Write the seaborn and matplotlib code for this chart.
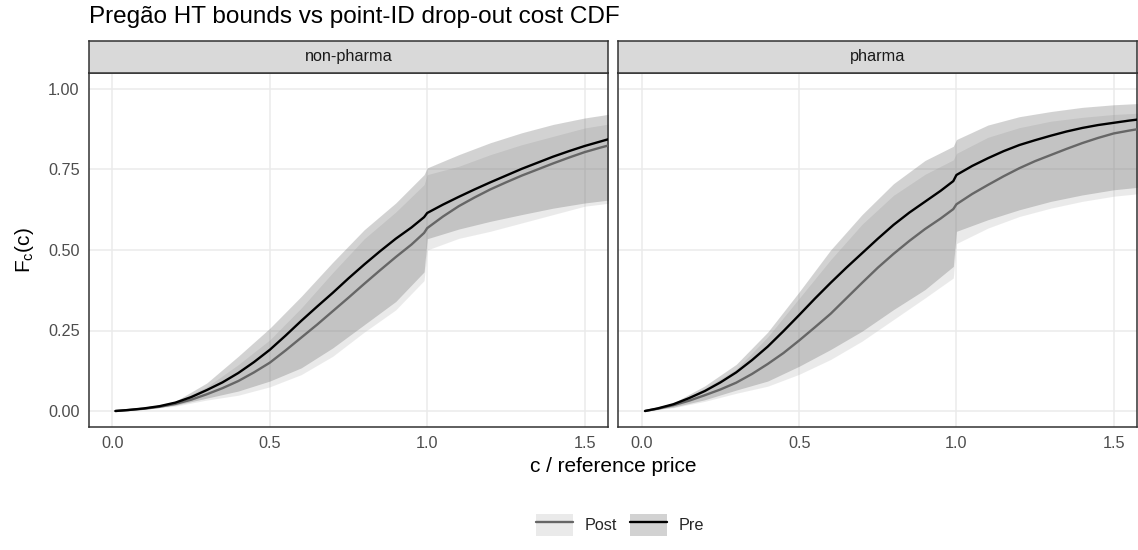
import numpy as np
import pandas as pd
import matplotlib
matplotlib.use("Agg")
import matplotlib.pyplot as plt
import seaborn as sns
from matplotlib.patches import Patch
from matplotlib.lines import Line2D

sns.set_theme(style="white")
plt.rcParams["font.family"] = ["Liberation Sans", "DejaVu Sans"]

# ---------------- data ----------------
panels = ["non-pharma", "pharma"]
periods = ["Post", "Pre"]

# point-identified CDFs (lines)
cost_line = [0.01, 0.05, 0.1, 0.15, 0.2, 0.25, 0.3, 0.35, 0.4, 0.45, 0.5,
             0.55, 0.6, 0.65, 0.7, 0.75, 0.8, 0.85, 0.9, 0.95, 0.99, 1.0,
             1.05, 1.1, 1.15, 1.2, 1.25, 1.3, 1.35, 1.4, 1.45, 1.5, 1.55, 1.6]
np_pre_pt = [0.0, 0.003, 0.008, 0.015, 0.026, 0.043, 0.065, 0.089, 0.118,
             0.152, 0.19, 0.234, 0.28, 0.324, 0.367, 0.412, 0.455, 0.496,
             0.535, 0.57, 0.602, 0.615, 0.641, 0.665, 0.688, 0.71, 0.731,
             0.752, 0.771, 0.79, 0.807, 0.823, 0.837, 0.851]
np_post_pt = [0.0, 0.003, 0.007, 0.013, 0.022, 0.035, 0.052, 0.071, 0.093,
              0.12, 0.15, 0.188, 0.228, 0.268, 0.31, 0.352, 0.395, 0.437,
              0.478, 0.517, 0.553, 0.568, 0.604, 0.636, 0.663, 0.688, 0.71,
              0.731, 0.75, 0.769, 0.787, 0.804, 0.818, 0.831]
ph_pre_pt = [0.0, 0.008, 0.021, 0.04, 0.062, 0.089, 0.12, 0.158, 0.2, 0.248,
             0.298, 0.349, 0.398, 0.445, 0.49, 0.535, 0.578, 0.616, 0.65,
             0.684, 0.714, 0.733, 0.761, 0.785, 0.807, 0.826, 0.841, 0.855,
             0.868, 0.879, 0.888, 0.895, 0.902, 0.908]
ph_post_pt = [0.0, 0.007, 0.018, 0.032, 0.049, 0.067, 0.088, 0.115, 0.146,
              0.18, 0.219, 0.26, 0.302, 0.35, 0.398, 0.445, 0.488, 0.528,
              0.565, 0.598, 0.627, 0.642, 0.674, 0.702, 0.729, 0.754, 0.776,
              0.795, 0.814, 0.832, 0.848, 0.862, 0.871, 0.879]

# HT bounds (ribbons)
cost_band = [0.01, 0.1, 0.2, 0.3, 0.4, 0.5, 0.6, 0.7, 0.8, 0.9, 0.99, 1.0,
             1.1, 1.2, 1.3, 1.4, 1.5, 1.6]
np_pre_lo = [0.0, 0.006, 0.018, 0.04, 0.062, 0.093, 0.134, 0.196, 0.268, 0.34,
             0.432, 0.535, 0.565, 0.589, 0.61, 0.63, 0.646, 0.658]
np_pre_hi = [0.0, 0.009, 0.03, 0.087, 0.17, 0.257, 0.356, 0.462, 0.563, 0.646,
             0.734, 0.755, 0.796, 0.833, 0.864, 0.89, 0.91, 0.925]
np_post_lo = [0.0, 0.005, 0.015, 0.034, 0.049, 0.075, 0.113, 0.17, 0.245, 0.314,
              0.405, 0.5, 0.536, 0.558, 0.584, 0.61, 0.636, 0.648]
np_post_hi = [0.0, 0.008, 0.027, 0.075, 0.144, 0.221, 0.32, 0.43, 0.535, 0.618,
              0.703, 0.734, 0.76, 0.796, 0.827, 0.853, 0.879, 0.895]
ph_pre_lo = [0.0, 0.012, 0.035, 0.065, 0.093, 0.139, 0.191, 0.248, 0.315, 0.377,
             0.449, 0.558, 0.594, 0.625, 0.651, 0.671, 0.687, 0.697]
ph_pre_hi = [0.0, 0.025, 0.078, 0.145, 0.245, 0.37, 0.5, 0.61, 0.706, 0.778,
             0.822, 0.843, 0.888, 0.914, 0.93, 0.943, 0.951, 0.956]
ph_post_lo = [0.0, 0.01, 0.03, 0.055, 0.077, 0.114, 0.16, 0.217, 0.284, 0.351,
              0.413, 0.52, 0.568, 0.604, 0.63, 0.651, 0.667, 0.677]
ph_post_hi = [0.0, 0.022, 0.07, 0.13, 0.23, 0.35, 0.47, 0.58, 0.67, 0.735,
              0.78, 0.80, 0.85, 0.88, 0.90, 0.912, 0.921, 0.926]

x_ticks = [0.0, 0.5, 1.0, 1.5]
x_tick_labels = ["0.0", "0.5", "1.0", "1.5"]
y_ticks = [0.0, 0.25, 0.5, 0.75, 1.0]
y_tick_labels = ["0.00", "0.25", "0.50", "0.75", "1.00"]

# ---------------- tidy frames ----------------
line_series = {
    ("non-pharma", "Pre"): np_pre_pt, ("non-pharma", "Post"): np_post_pt,
    ("pharma", "Pre"): ph_pre_pt, ("pharma", "Post"): ph_post_pt,
}
band_series = {
    ("non-pharma", "Pre"): (np_pre_lo, np_pre_hi),
    ("non-pharma", "Post"): (np_post_lo, np_post_hi),
    ("pharma", "Pre"): (ph_pre_lo, ph_pre_hi),
    ("pharma", "Post"): (ph_post_lo, ph_post_hi),
}
lines_df = pd.DataFrame([dict(panel=p, period=q, c=c, F=f)
                         for (p, q), v in line_series.items()
                         for c, f in zip(cost_line, v)])
bands_df = pd.DataFrame([dict(panel=p, period=q, c=c, lo=l, hi=h)
                         for (p, q), (lo, hi) in band_series.items()
                         for c, l, h in zip(cost_band, lo, hi)])

line_col = {"Post": "#666666", "Pre": "#000000"}
fill_col = {"Post": "#AFAFAF", "Pre": "#4F4F4F"}
fill_alpha = 0.25
lw = 1.7

# ---------------- layout (pixel based) ----------------
W, H = 1138, 550
fig = plt.figure(figsize=(W / 100, H / 100), dpi=100)
fig.patch.set_facecolor("white")

panel_top, panel_bot = 72.9, 427.1
strip_top = 41.0
xspans = [(88.7, 608.3), (618.3, 1137.3)]

border = "#333333"
for i, (pan, (x0, x1)) in enumerate(zip(panels, xspans)):
    ax = fig.add_axes([x0 / W, 1 - panel_bot / H, (x1 - x0) / W,
                       (panel_bot - panel_top) / H])
    ax.set_facecolor("white")
    ax.set_axisbelow(True)
    bsub = bands_df[bands_df.panel == pan]
    for per in periods:
        s = bsub[bsub.period == per]
        ax.fill_between(s["c"], s["lo"], s["hi"], color=fill_col[per],
                        alpha=fill_alpha, linewidth=0, zorder=1)
    lsub = lines_df[lines_df.panel == pan]
    sns.lineplot(data=lsub, x="c", y="F", hue="period", hue_order=periods,
                 palette=line_col, estimator=None, sort=True, legend=False,
                 linewidth=lw, ax=ax, zorder=3)
    ax.set_xlim(-0.075, 1.575)
    ax.set_ylim(-0.05, 1.05)
    ax.set_xticks(x_ticks)
    ax.set_xticklabels(x_tick_labels)
    ax.set_yticks(y_ticks)
    ax.grid(True, color="#EBEBEB", linewidth=1.1)
    ax.set_xlabel("")
    ax.set_ylabel("")
    ax.tick_params(axis="both", direction="out", length=3.7, width=1.0,
                   color=border, labelcolor="#4D4D4D", labelsize=11.7,
                   pad=2.9)
    if i == 0:
        ax.set_yticklabels(y_tick_labels)
    else:
        ax.tick_params(axis="y", length=0, labelleft=False)
    for sp in ax.spines.values():
        sp.set_visible(True)
        sp.set_color(border)
        sp.set_linewidth(1.1)

    # facet strip
    sax = fig.add_axes([x0 / W, 1 - panel_top / H, (x1 - x0) / W,
                        (panel_top - strip_top) / H])
    sax.set_facecolor("#D9D9D9")
    sax.set_xticks([])
    sax.set_yticks([])
    for sp in sax.spines.values():
        sp.set_visible(True)
        sp.set_color(border)
        sp.set_linewidth(1.1)
    sax.text(0.5, 0.5, pan, transform=sax.transAxes, ha="center",
             va="center", fontsize=11.7, color="#1A1A1A")

# ---------------- texts ----------------
fig.text(89.3 / W, 1 - 23.3 / H,
         "Pregão HT bounds vs point-ID drop-out cost CDF",
         ha="left", va="baseline", fontsize=17.5, color="black")
fig.text(613 / W, 1 - 472 / H, "c / reference price", ha="center",
         va="baseline", fontsize=15, color="black")
fig.text(24 / W, 1 - 250 / H, r"F$_{\mathregular{c}}$(c)", rotation=90,
         ha="center", va="center", fontsize=15, color="black")

# ---------------- legend ----------------
handles = [
    (Patch(facecolor=fill_col[p], alpha=fill_alpha, linewidth=0),
     Line2D([], [], color=line_col[p], linewidth=lw))
    for p in periods
]
fig.legend(handles=handles, labels=periods, loc="center",
           bbox_to_anchor=(620 / W, 1 - 525 / H), ncol=2, frameon=False,
           fontsize=11.7, handlelength=2.3, handleheight=1.75,
           handletextpad=0.7, columnspacing=0.8, borderpad=0)

fig.savefig("out.png", dpi=100, facecolor="white")
